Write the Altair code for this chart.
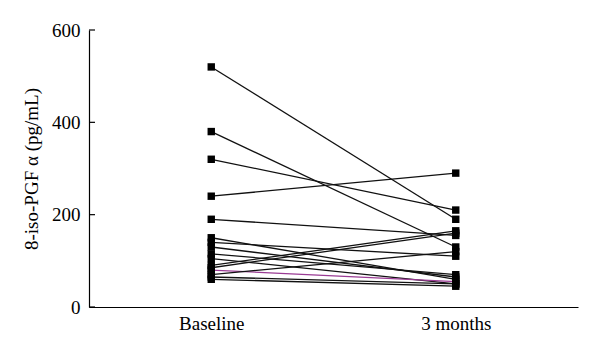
import altair as alt
import pandas as pd

# values
times = ["Baseline", "3 months"]
baseline = [520, 380, 320, 240, 190, 150, 140, 130, 115, 105, 90, 85, 80, 70, 65, 60]
month3 = [190, 130, 210, 290, 155, 60, 110, 65, 70, 50, 165, 160, 55, 120, 50, 45]
highlight = [0, 0, 0, 0, 0, 0, 0, 0, 0, 0, 0, 0, 1, 0, 0, 0]
y_ticks = [0, 200, 400, 600]

rows = []
for i, (b, m, h) in enumerate(zip(baseline, month3, highlight)):
    rows.append({"subject": i, "time": times[0], "value": b, "hl": "purple" if h else "black", "order": 0})
    rows.append({"subject": i, "time": times[1], "value": m, "hl": "purple" if h else "black", "order": 1})
df = pd.DataFrame(rows)
ticks_df = pd.DataFrame({"t": y_ticks})

FONT = "Liberation Serif"

x_enc = alt.X("time:N", sort=times,
              scale=alt.Scale(type="point", padding=0.5),
              axis=alt.Axis(title=None, ticks=False, labelAngle=0, labelFont=FONT,
                            labelFontSize=19, labelColor="black", labelPadding=7,
                            domainColor="black", domainWidth=1.2, grid=False))
y_scale = alt.Scale(domain=[0, 600], nice=False)

lines = alt.Chart(df).mark_line(strokeWidth=1.3).encode(
    x=x_enc,
    y=alt.Y("value:Q", scale=y_scale,
            axis=alt.Axis(title="8-iso-PGF α (pg/mL)", values=y_ticks, ticks=False,
                          labelFont=FONT, labelFontSize=19, labelColor="black",
                          labelPadding=9, titleFont=FONT, titleFontSize=19,
                          titleFontWeight="normal", titleColor="black", titlePadding=10,
                          domainColor="black", domainWidth=1.2, grid=False)),
    detail="subject:N",
    order="order:Q",
    color=alt.Color("hl:N", scale=alt.Scale(domain=["black", "purple"], range=["#111111", "#9a3b94"]), legend=None),
)

points = alt.Chart(df).mark_point(shape="square", filled=True, size=55, color="black", opacity=1).encode(
    x=alt.X("time:N", sort=times, scale=alt.Scale(type="point", padding=0.5)),
    y=alt.Y("value:Q", scale=y_scale),
)

tick_marks = alt.Chart(ticks_df).mark_rule(color="black", strokeWidth=1.2).encode(
    x=alt.value(0), x2=alt.value(6),
    y=alt.Y("t:Q", scale=y_scale),
)

chart = alt.layer(lines, points, tick_marks).properties(
    width=489, height=277,
    autosize=alt.AutoSizeParams(type="none"),
    padding={"left": 89, "top": 30, "right": 22, "bottom": 46},
    background="white",
).configure_view(stroke=None)

chart.save("out.html", embed_options={"renderer": "svg", "actions": False})
